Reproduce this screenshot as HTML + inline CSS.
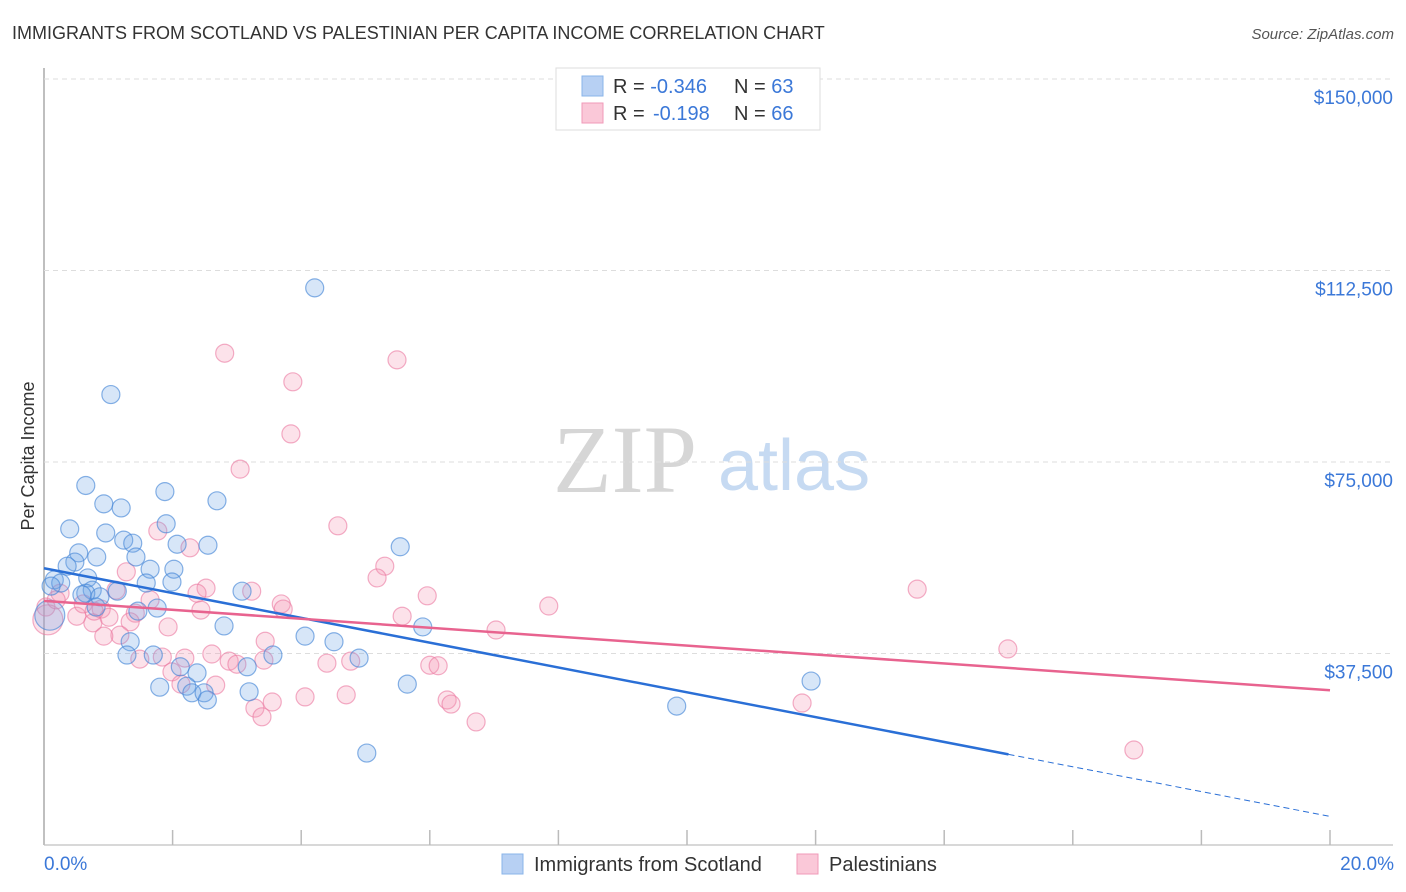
<!DOCTYPE html>
<html><head><meta charset="utf-8"><style>
body{margin:0;background:#fff;font-family:"Liberation Sans",sans-serif;}
svg{display:block}
</style></head><body>
<svg id="chart" width="1406" height="892">
<text x="12" y="39" font-size="18" fill="#333">IMMIGRANTS FROM SCOTLAND VS PALESTINIAN PER CAPITA INCOME CORRELATION CHART</text>
<text x="1394" y="39" font-size="15" fill="#555" font-style="italic" text-anchor="end">Source: ZipAtlas.com</text>
<g>
<text x="553" y="492" font-family="Liberation Serif,serif" font-size="96" fill="#d6d6d6">ZIP</text>
<text x="718" y="490" font-size="72" fill="#c6daf2">atlas</text>
</g>
<text transform="translate(34,456) rotate(-90)" font-size="18" fill="#333" text-anchor="middle">Per Capita Income</text>
<g id="grid"></g><g id="pts"></g><g id="lines"></g>
<g>
<rect x="556" y="68" width="264" height="62" fill="#fff" stroke="#ddd"/>
<rect x="582" y="76" width="21" height="20" fill="#b7d0f3" stroke="#8ab4ea"/>
<rect x="582" y="103" width="21" height="20" fill="#fac8d8" stroke="#f09ab8"/>
<text x="613" y="93" font-size="20" fill="#333">R = <tspan fill="#3b78d8">-0.346</tspan><tspan x="734">N = </tspan><tspan fill="#3b78d8">63</tspan></text>
<text x="613" y="120" font-size="20" fill="#333">R = <tspan x="653" fill="#3b78d8">-0.198</tspan><tspan x="734">N = </tspan><tspan fill="#3b78d8">66</tspan></text>
</g>
<g>
<rect x="502" y="854" width="21" height="20" fill="#b7d0f3" stroke="#8ab4ea"/>
<text x="534" y="871" font-size="20" fill="#333">Immigrants from Scotland</text>
<rect x="797" y="854" width="21" height="20" fill="#fac8d8" stroke="#f09ab8"/>
<text x="829" y="871" font-size="20" fill="#333">Palestinians</text>
</g>
<text x="44" y="870" font-size="19" fill="#3b78d8">0.0%</text>
<text x="1394" y="870" font-size="19" fill="#3b78d8" text-anchor="end">20.0%</text>
</svg>
<script>
const yTicks=[37500,75000,112500,150000];
const yTickLabels=["$37,500","$75,000","$112,500","$150,000"];
const xTicks=[0,2,4,6,8,10,12,14,16,18,20];
const blueX=[4.21,1.04,0.65,1.88,2.69,0.93,1.20,0.40,1.90,0.96,1.24,1.38,2.07,2.55,5.54,0.54,0.82,1.43,0.48,0.36,1.65,2.02,0.68,0.16,0.26,1.59,1.99,0.11,0.75,1.14,0.65,3.08,0.87,0.59,0.81,1.46,1.76,2.80,5.89,4.06,4.51,1.34,1.29,1.70,3.56,4.90,2.12,3.16,2.38,1.80,2.22,2.30,2.49,2.54,3.19,5.65,11.93,9.84,5.02,0.09];
const blueY=[109.1,88.2,70.4,69.2,67.4,66.8,66.0,61.9,62.9,61.1,59.7,59.1,58.9,58.7,58.4,57.2,56.4,56.4,55.4,54.6,54.0,54.0,52.3,51.9,51.3,51.3,51.5,50.7,49.9,49.7,49.3,49.7,48.6,49.0,46.6,45.8,46.4,42.9,42.7,40.9,39.8,39.8,37.2,37.2,37.2,36.6,34.9,34.9,33.7,30.9,31.1,29.8,29.8,28.4,30.0,31.5,32.1,27.2,18.0,45.0];
const pinkX=[2.81,5.49,3.87,3.84,3.05,4.57,1.77,2.27,5.30,5.18,1.28,0.25,0.03,0.89,2.52,3.23,1.65,2.38,3.69,3.72,5.96,7.85,13.58,5.57,1.42,0.51,1.01,2.44,1.34,1.93,0.76,1.18,0.93,3.44,7.03,14.99,2.19,1.84,2.61,2.88,3.00,4.40,4.77,1.49,1.99,2.13,2.67,6.00,6.13,4.06,4.70,6.27,6.33,3.28,3.55,3.39,6.72,11.79,16.95,0.06,0.19,0.61,1.12,0.78,3.42];
const pinkY=[96.3,95.0,90.7,80.5,73.6,62.5,61.5,58.2,54.6,52.3,53.5,49.3,46.6,46.2,50.3,49.7,48.0,49.3,47.2,46.2,48.8,46.8,50.1,44.8,45.4,44.8,44.6,46.0,43.7,42.7,43.5,41.1,40.9,39.9,42.1,38.4,36.6,36.8,37.4,36.0,35.4,35.6,36.0,36.4,33.9,31.5,31.3,35.2,35.1,29.0,29.4,28.4,27.6,26.8,28.0,25.1,24.1,27.8,18.6,44.1,48.0,47.2,49.9,45.8,36.2];
const blueTrend=[54.2,-2.43]; // intercept ($k), slope ($k per %)
const pinkTrend=[47.8,-0.875];
const blueSolidEnd=15.0;
const NS="http://www.w3.org/2000/svg";
const X=v=>44+v*64.3, Y=k=>845-k/0.19582;
function mk(t,a,p){const e=document.createElementNS(NS,t);for(const k in a)e.setAttribute(k,a[k]);p.appendChild(e);return e;}
const grid=document.getElementById('grid');
let ax=mk('line',{x1:44,y1:68,x2:44,y2:845,stroke:'#aaa','stroke-width':1.5},grid);

let bx=mk('line',{x1:44,y1:845,x2:1393,y2:845,stroke:'#ccc','stroke-width':1.5},grid);

yTicks.forEach((t,i)=>{const y=Y(t/1000);
 const g=mk('line',{x1:44,y1:y,x2:1393,y2:y,stroke:'#ddd','stroke-dasharray':'5,4'},grid);
 
 const l=mk('text',{x:1393,y:y+25,'font-size':19,fill:'#3b78d8','text-anchor':'end'},grid);l.textContent=yTickLabels[i];
 });
xTicks.forEach(t=>{const tk=mk('line',{x1:X(t),y1:830,x2:X(t),y2:845,stroke:'#bbb','stroke-width':1.5},grid);
 });
const pts=document.getElementById('pts');
pinkX.forEach((x,i)=>{const c=mk('circle',{cx:X(x),cy:Y(pinkY[i]),r:i==59?15:9,fill:'rgba(244,150,180,0.28)',stroke:'rgba(235,120,160,0.6)','stroke-width':1.2},pts);
 });
blueX.forEach((x,i)=>{const c=mk('circle',{cx:X(x),cy:Y(blueY[i]),r:i==59?15:9,fill:'rgba(110,165,230,0.28)',stroke:'rgba(70,135,215,0.65)','stroke-width':1.2},pts);
 });
const L=document.getElementById('lines');
const bf=x=>blueTrend[0]+blueTrend[1]*x, pf=x=>pinkTrend[0]+pinkTrend[1]*x;
let l1=mk('line',{x1:X(0),y1:Y(bf(0)),x2:X(blueSolidEnd),y2:Y(bf(blueSolidEnd)),stroke:'#2a6fd6','stroke-width':2.5},L);

let l2=mk('line',{x1:X(blueSolidEnd),y1:Y(bf(blueSolidEnd)),x2:X(20),y2:Y(bf(20)),stroke:'#2a6fd6','stroke-width':1,'stroke-dasharray':'6,4'},L);

let l3=mk('line',{x1:X(0),y1:Y(pf(0)),x2:X(20),y2:Y(pf(20)),stroke:'#e8638f','stroke-width':2.5},L);

</script>
</body></html>
